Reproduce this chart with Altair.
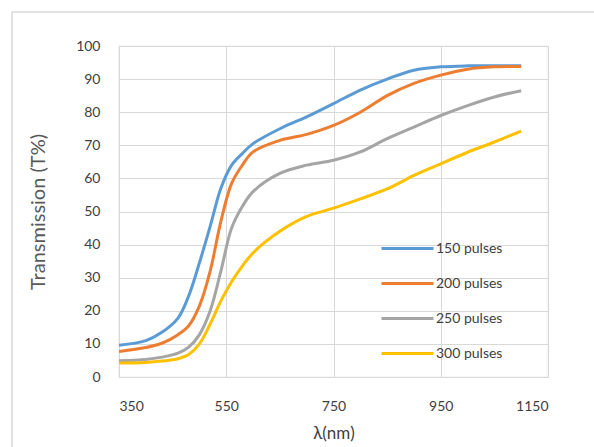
import altair as alt
import pandas as pd

wavelength = [350, 400, 430, 460, 480, 500, 520, 540, 560, 580, 600, 650, 700, 750, 800, 850, 900, 950, 1000, 1050, 1100]
t150 = [9.6, 11.0, 13.5, 17.8, 24.5, 34.5, 45.5, 57.0, 64.0, 67.5, 70.5, 75.0, 78.6, 82.6, 86.7, 90.0, 92.7, 93.7, 94.0, 94.0, 94.0]
t200 = [7.7, 8.9, 10.2, 12.8, 15.5, 21.5, 32.0, 47.0, 58.5, 64.0, 68.0, 71.5, 73.3, 76.0, 80.0, 85.0, 88.7, 91.2, 93.0, 93.7, 93.8]
t250 = [4.9, 5.3, 6.0, 7.2, 9.0, 12.8, 20.0, 32.0, 45.0, 51.5, 56.0, 61.5, 64.0, 65.5, 68.0, 72.0, 75.5, 79.0, 82.0, 84.6, 86.5]
t300 = [4.2, 4.4, 4.8, 5.5, 6.8, 10.0, 16.0, 23.0, 28.8, 33.5, 37.5, 44.0, 48.5, 51.0, 53.8, 56.8, 60.9, 64.4, 67.9, 71.0, 74.3]
series_names = ["150 pulses", "200 pulses", "250 pulses", "300 pulses"]
colors = ["#5B9BD5", "#ED7D31", "#A5A5A5", "#FFC000"]
x_ticks = [350, 550, 750, 950, 1150]
y_ticks = list(range(0, 101, 10))

rows = []
for name, vals in zip(series_names, [t150, t200, t250, t300]):
    for w, v in zip(wavelength, vals):
        rows.append({"wl": w, "T": v, "series": name})
df = pd.DataFrame(rows)

FONT = "Lato"
W, H = 429, 331

lines = alt.Chart(df).mark_line(strokeWidth=3, interpolate="catmull-rom").encode(
    x=alt.X("wl:Q", scale=alt.Scale(domain=[350, 1150], nice=False),
            axis=alt.Axis(values=x_ticks, format="d", title="λ(nm)", labelFontSize=14, labelColor="#404040",
                          labelPadding=22, titleFontSize=17, titleColor="#404040", titlePadding=12,
                          titleFontWeight="normal", grid=True, gridColor="#d9d9d9", domain=False,
                          ticks=False, labelFont=FONT, titleFont=FONT)),
    y=alt.Y("T:Q", scale=alt.Scale(domain=[0, 100], nice=False),
            axis=alt.Axis(values=y_ticks, title="Transmission (T%)", labelFontSize=14, labelColor="#404040",
                          labelPadding=19, titleFontSize=20, titleColor="#595959", titlePadding=27,
                          titleFontWeight="normal", grid=True, gridColor="#d9d9d9", domain=False,
                          ticks=False, labelFont=FONT, titleFont=FONT)),
    color=alt.Color("series:N", scale=alt.Scale(domain=series_names, range=colors),
                    legend=alt.Legend(title=None, orient="none", legendX=261, legendY=175,
                                      symbolType="stroke", symbolSize=2704, symbolStrokeWidth=3,
                                      labelFontSize=14, labelColor="#404040", labelFont=FONT,
                                      rowPadding=-17, labelOffset=1, padding=0)),
)

frame = alt.Chart(pd.DataFrame({"a": [0]})).mark_rect(fill=None, stroke="#d9d9d9", strokeWidth=1.5).encode(
    x=alt.value(-107), x2=alt.value(480), y=alt.value(-34), y2=alt.value(410)
)

chart = alt.layer(frame, lines).properties(
    width=W, height=H,
    padding={"left": 119, "top": 46, "right": 46, "bottom": 70},
    autosize=alt.AutoSizeParams(type="none"),
    background="white",
).configure_view(stroke="#d9d9d9", strokeWidth=1.2)

chart.save("out.html", embed_options={"renderer": "svg", "actions": False})
